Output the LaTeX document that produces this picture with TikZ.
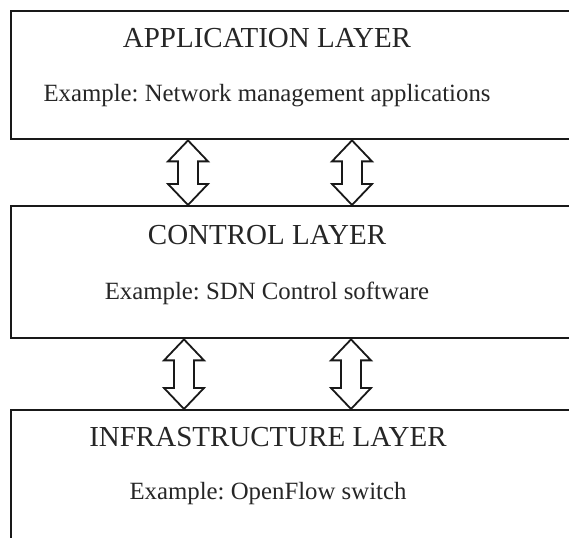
\documentclass[tikz,border=0pt]{standalone}
\usepackage{fontspec}
\setmainfont{Liberation Serif}
\usetikzlibrary{calc}
\frenchspacing
\tikzset{
  layerbox/.style={draw=black!90, line width=2.4pt, rectangle, anchor=north west, minimum width=620pt, inner sep=0pt},
  titletext/.style={anchor=base, inner sep=0pt, font=\fontsize{29}{34}\selectfont, text=black!85},
  extext/.style={anchor=base, inner sep=0pt, font=\fontsize{24.8}{30}\selectfont, text=black!85},
  arrowline/.style={draw=black!90, line width=1.8pt, line join=miter, fill=white}
}
\newcommand\dblarr[2]{%
  \draw[arrowline] let \p1=(#1), \p2=(#2) in
    (\x1,\y1) -- (\x1+20pt,\y1-21pt) -- (\x1+10pt,\y1-21pt) -- (\x1+10pt,\y2+21pt)
    -- (\x1+20pt,\y2+21pt) -- (\x1,\y2) -- (\x1-20pt,\y2+21pt) -- (\x1-10pt,\y2+21pt)
    -- (\x1-10pt,\y1-21pt) -- (\x1-20pt,\y1-21pt) -- cycle;}
\begin{document}
\begin{tikzpicture}[x=1pt,y=1pt]
\useasboundingbox (0,0) rectangle (569,537);
\clip (0,0) rectangle (569,537);
\fill[white] (0,0) rectangle (569,537);
% layer boxes
\node[layerbox, minimum height=128pt] (app) at (10,527) {};
\node[layerbox, minimum height=132pt] (ctl) at (10,332) {};
\node[layerbox, minimum height=150pt] (inf) at (10,128) {};
% texts
\node[titletext] (appt) at (267,489) {APPLICATION LAYER};
\node[extext] (appe) at (267,435) {Example: Network management applications};
\node[titletext] (ctlt) at (267,292) {CONTROL LAYER};
\node[extext] (ctle) at (267,237) {Example: SDN Control software};
\node[titletext] (inft) at (268,90) {INFRASTRUCTURE LAYER};
\node[extext] (infe) at (268,37) {Example: OpenFlow switch};
% connector end points on the box borders
\coordinate (a1s) at ($(app.south west)+(178pt,0)$);
\coordinate (a1e) at ($(ctl.north west)+(178pt,0)$);
\coordinate (a2s) at ($(app.south west)+(342pt,0)$);
\coordinate (a2e) at ($(ctl.north west)+(342pt,0)$);
\coordinate (b1s) at ($(ctl.south west)+(174pt,0)$);
\coordinate (b1e) at ($(inf.north west)+(174pt,0)$);
\coordinate (b2s) at ($(ctl.south west)+(341pt,0)$);
\coordinate (b2e) at ($(inf.north west)+(341pt,0)$);
% double arrows
\dblarr{a1s}{a1e}
\dblarr{a2s}{a2e}
\dblarr{b1s}{b1e}
\dblarr{b2s}{b2e}
\end{tikzpicture}
\end{document}
